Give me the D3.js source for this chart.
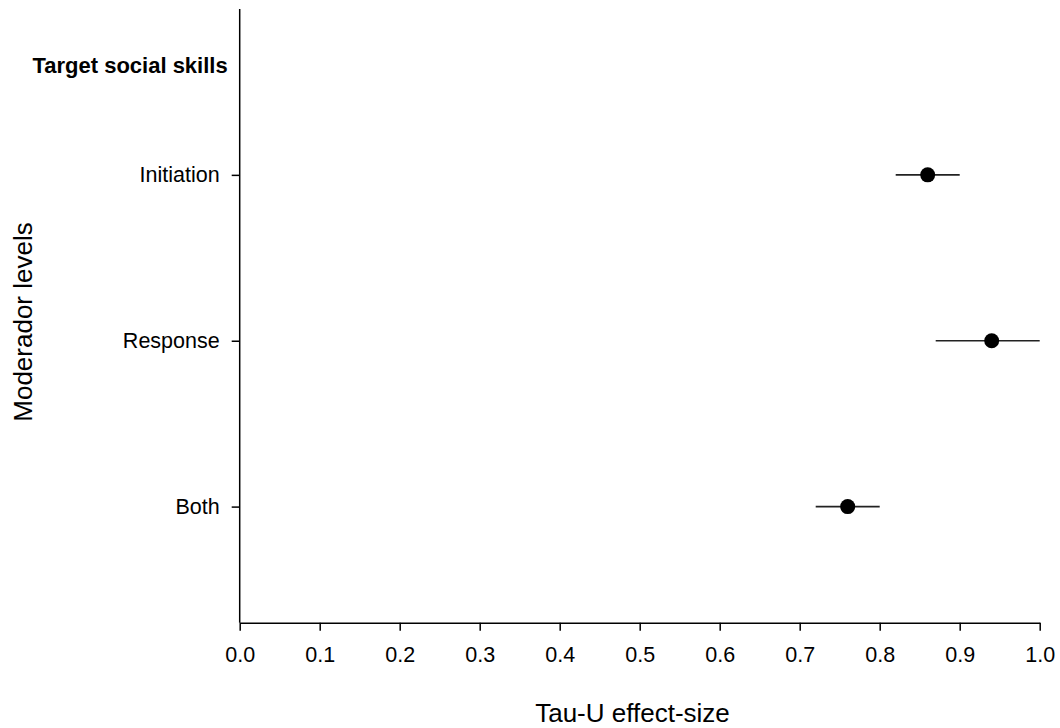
<!DOCTYPE html>
<html>
<head>
<meta charset="utf-8">
<script src="https://cdn.jsdelivr.net/npm/d3@7"></script>
<style>
  html, body { margin: 0; padding: 0; background: #fff; }
  svg { display: block; font-family: "Liberation Sans", Arial, sans-serif; }
</style>
</head>
<body>
<svg id="chart" width="1060" height="728"></svg>
<script>
// Moderator levels and their Tau-U estimates with confidence limits
const groupTitle = "Target social skills";
const categories = ["Initiation", "Response", "Both"];
const estimates = [0.86, 0.94, 0.76];
const lowerCI = [0.82, 0.87, 0.72];
const upperCI = [0.90, 1.00, 0.80];
const xTicks = [0.0, 0.1, 0.2, 0.3, 0.4, 0.5, 0.6, 0.7, 0.8, 0.9, 1.0];

const svg = d3.select("#chart");

const plot = { left: 239.7, right: 1039.7, top: 9, bottom: 622.7 };

const x = d3.scaleLinear().domain([0, 1]).range([plot.left, plot.right]);
// rows are indexed from the top; the header row sits above the first level
const y = d3.scaleLinear().domain([-1, 2.7]).range([plot.top, plot.bottom]);

const rows = categories.map((c, i) => ({
  name: c, idx: i, est: estimates[i], lo: lowerCI[i], hi: upperCI[i]
}));

// x axis
const xAxis = d3.axisBottom(x)
  .tickValues(xTicks)
  .tickFormat(d3.format(".1f"))
  .tickSize(8)
  .tickSizeOuter(0)
  .tickPadding(16);

const gx = svg.append("g")
  .attr("transform", `translate(0,${plot.bottom})`)
  .call(xAxis);
gx.selectAll("text").attr("font-size", 21.5).attr("fill", "#000")
  .attr("font-family", "'Liberation Sans', Arial, sans-serif");
gx.selectAll("line, path").attr("stroke", "#000").attr("stroke-width", 1.5);

// y axis
const yAxis = d3.axisLeft(y)
  .tickValues(rows.map(r => r.idx))
  .tickFormat(i => categories[i])
  .tickSize(8)
  .tickSizeOuter(0)
  .tickPadding(12);

const gy = svg.append("g")
  .attr("transform", `translate(${plot.left},0)`)
  .call(yAxis);
gy.select(".domain").attr("d", `M0,${plot.top}V${plot.bottom}`);
gy.selectAll("text").attr("font-size", 21.5).attr("fill", "#000")
  .attr("font-family", "'Liberation Sans', Arial, sans-serif");
gy.selectAll("line, path").attr("stroke", "#000").attr("stroke-width", 1.5);

// group header
svg.append("text")
  .attr("x", plot.left - 12)
  .attr("y", y(-0.662))
  .attr("dy", "0.35em")
  .attr("text-anchor", "end")
  .attr("font-size", 22)
  .attr("font-weight", "bold")
  .attr("fill", "#000")
  .text(groupTitle);

// confidence intervals
svg.append("g").selectAll("line")
  .data(rows)
  .join("line")
  .attr("x1", d => x(d.lo))
  .attr("x2", d => x(d.hi))
  .attr("y1", d => y(d.idx))
  .attr("y2", d => y(d.idx))
  .attr("stroke", "#222")
  .attr("stroke-width", 1.6);

// point estimates
svg.append("g").selectAll("circle")
  .data(rows)
  .join("circle")
  .attr("cx", d => x(d.est))
  .attr("cy", d => y(d.idx))
  .attr("r", 7.5)
  .attr("fill", "#000");

// axis titles
svg.append("text")
  .attr("x", 632.5)
  .attr("y", 722)
  .attr("text-anchor", "middle")
  .attr("font-size", 26)
  .attr("fill", "#000")
  .text("Tau-U effect-size");

svg.append("text")
  .attr("transform", "translate(32.3,322) rotate(-90)")
  .attr("text-anchor", "middle")
  .attr("font-size", 26)
  .attr("fill", "#000")
  .text("Moderador levels");
</script>
</body>
</html>
